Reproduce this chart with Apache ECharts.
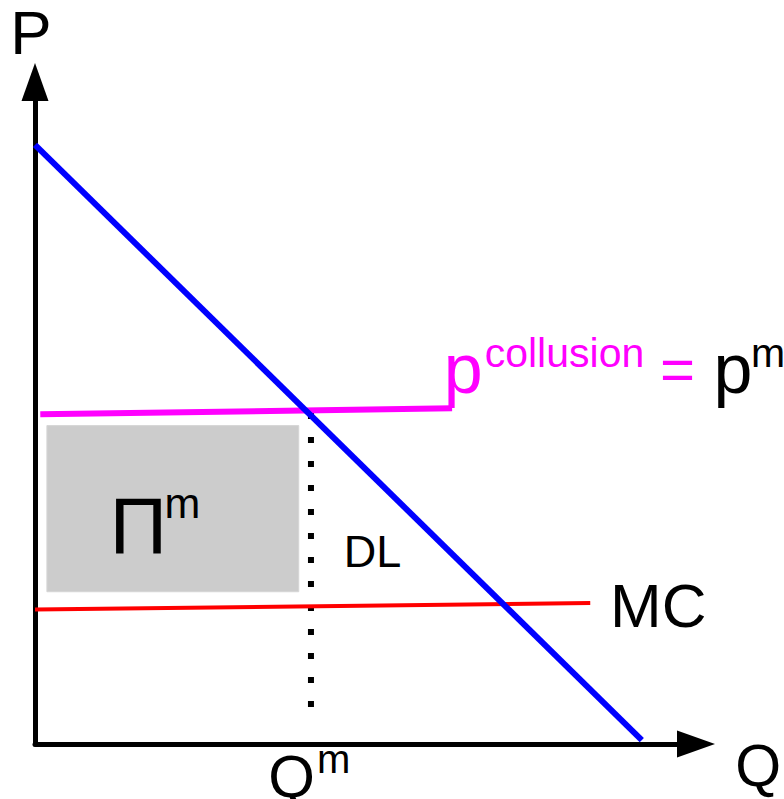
<!DOCTYPE html>
<html lang="en">
<head>
<meta charset="utf-8">
<title>Collusion diagram</title>
<script src="https://cdn.jsdelivr.net/npm/echarts@6/dist/echarts.min.js"></script>
<style>
  html, body { margin: 0; padding: 0; background: #fff; }
  #main { width: 784px; height: 799px; }
</style>
</head>
<body>
<div id="main"></div>
<script type="text/javascript">
// demand curve (Q, P)
const demandQ = [0, 9.18];
const demandP = [9.05, 0.06];
// collusion price line
const collusionQ = [0.08, 6.31];
const collusionP = [4.98, 5.07];
// marginal cost line
const mcQ = [0, 8.40];
const mcP = [2.03, 2.13];
// dotted line at Q^m
const qmQ = [4.175, 4.175];
const qmP = [5.0, 0.56];
// profit rectangle [q0, p0, q1, p1]
const profitBox = [0.18, 2.30, 3.99, 4.81];

// text labels
const labelText  = ['P', 'Q', 'Q', 'm', 'Π', 'm', 'DL', 'MC', 'p', 'collusion', '=', 'p', 'm'];
const labelQ     = [-0.06, 10.94, 3.88, 4.52, 1.566, 2.23, 5.106, 9.43, 6.48, 8.01, 9.72, 10.56, 11.09];
const labelP     = [10.75, -0.33, -0.49, -0.23, 3.285, 3.64, 2.915, 2.09, 5.67, 5.91, 5.66, 5.67, 5.91];
const labelSize  = [62, 59, 60, 40, 80, 43, 45, 62, 70, 41, 60, 70, 41];
const labelColor = ['#000', '#000', '#000', '#000', '#000', '#000', '#000', '#000',
                    '#ff00ff', '#ff00ff', '#ff00ff', '#000', '#000'];

const FONT = '"Liberation Sans", Arial, sans-serif';

function pairs(xs, ys) {
    return xs.map((x, i) => [x, ys[i]]);
}

let chart = echarts.init(document.getElementById('main'), null, { renderer: 'svg' });

let labelData = labelText.map((t, i) => ({
    value: [labelQ[i], labelP[i]],
    label: {
        formatter: t,
        fontSize: labelSize[i],
        color: labelColor[i]
    }
}));

// axes with triangle arrow heads, no ticks or labels
let hiddenAxis = {
    type: 'value',
    min: 0,
    max: 10,
    axisLabel: { show: false },
    axisTick: { show: false },
    splitLine: { show: false },
    axisLine: {
        show: true,
        symbol: ['none', 'triangle'],
        symbolSize: [27, 38],
        lineStyle: { color: '#000', width: 5 }
    }
};

let option = {
    animation: false,
    backgroundColor: '#fff',
    grid: { left: 35, right: 88, top: 82, bottom: 55, outerBoundsMode: 'none' },
    xAxis: hiddenAxis,
    yAxis: Object.assign({}, hiddenAxis),
    series: [
        {
            // profit box
            type: 'custom',
            z: 1,
            data: [profitBox],
            renderItem: function (params, api) {
                let a = api.coord([api.value(0), api.value(1)]);
                let b = api.coord([api.value(2), api.value(3)]);
                return {
                    type: 'rect',
                    shape: { x: a[0], y: b[1], width: b[0] - a[0], height: a[1] - b[1] },
                    style: { fill: '#cccccc', stroke: '#d6d6d6', lineWidth: 1 }
                };
            }
        },
        {
            type: 'line',
            z: 3,
            data: pairs(qmQ, qmP),
            symbol: 'none',
            lineStyle: { color: '#000', width: 6, type: [6, 18], cap: 'butt' }
        },
        {
            type: 'line',
            z: 4,
            data: pairs(mcQ, mcP),
            symbol: 'none',
            lineStyle: { color: '#ff0000', width: 4 }
        },
        {
            type: 'line',
            z: 5,
            data: pairs(collusionQ, collusionP),
            symbol: 'none',
            lineStyle: { color: '#ff00ff', width: 6 }
        },
        {
            type: 'line',
            z: 6,
            data: pairs(demandQ, demandP),
            symbol: 'none',
            lineStyle: { color: '#0000ff', width: 6 }
        },
        {
            type: 'scatter',
            z: 10,
            clip: false,
            symbolSize: 0,
            itemStyle: { opacity: 1 },
            data: labelData,
            label: {
                show: true,
                position: 'inside',
                align: 'center',
                verticalAlign: 'middle',
                fontFamily: FONT,
                opacity: 1
            }
        }
    ]
};

chart.setOption(option);
</script>
</body>
</html>
